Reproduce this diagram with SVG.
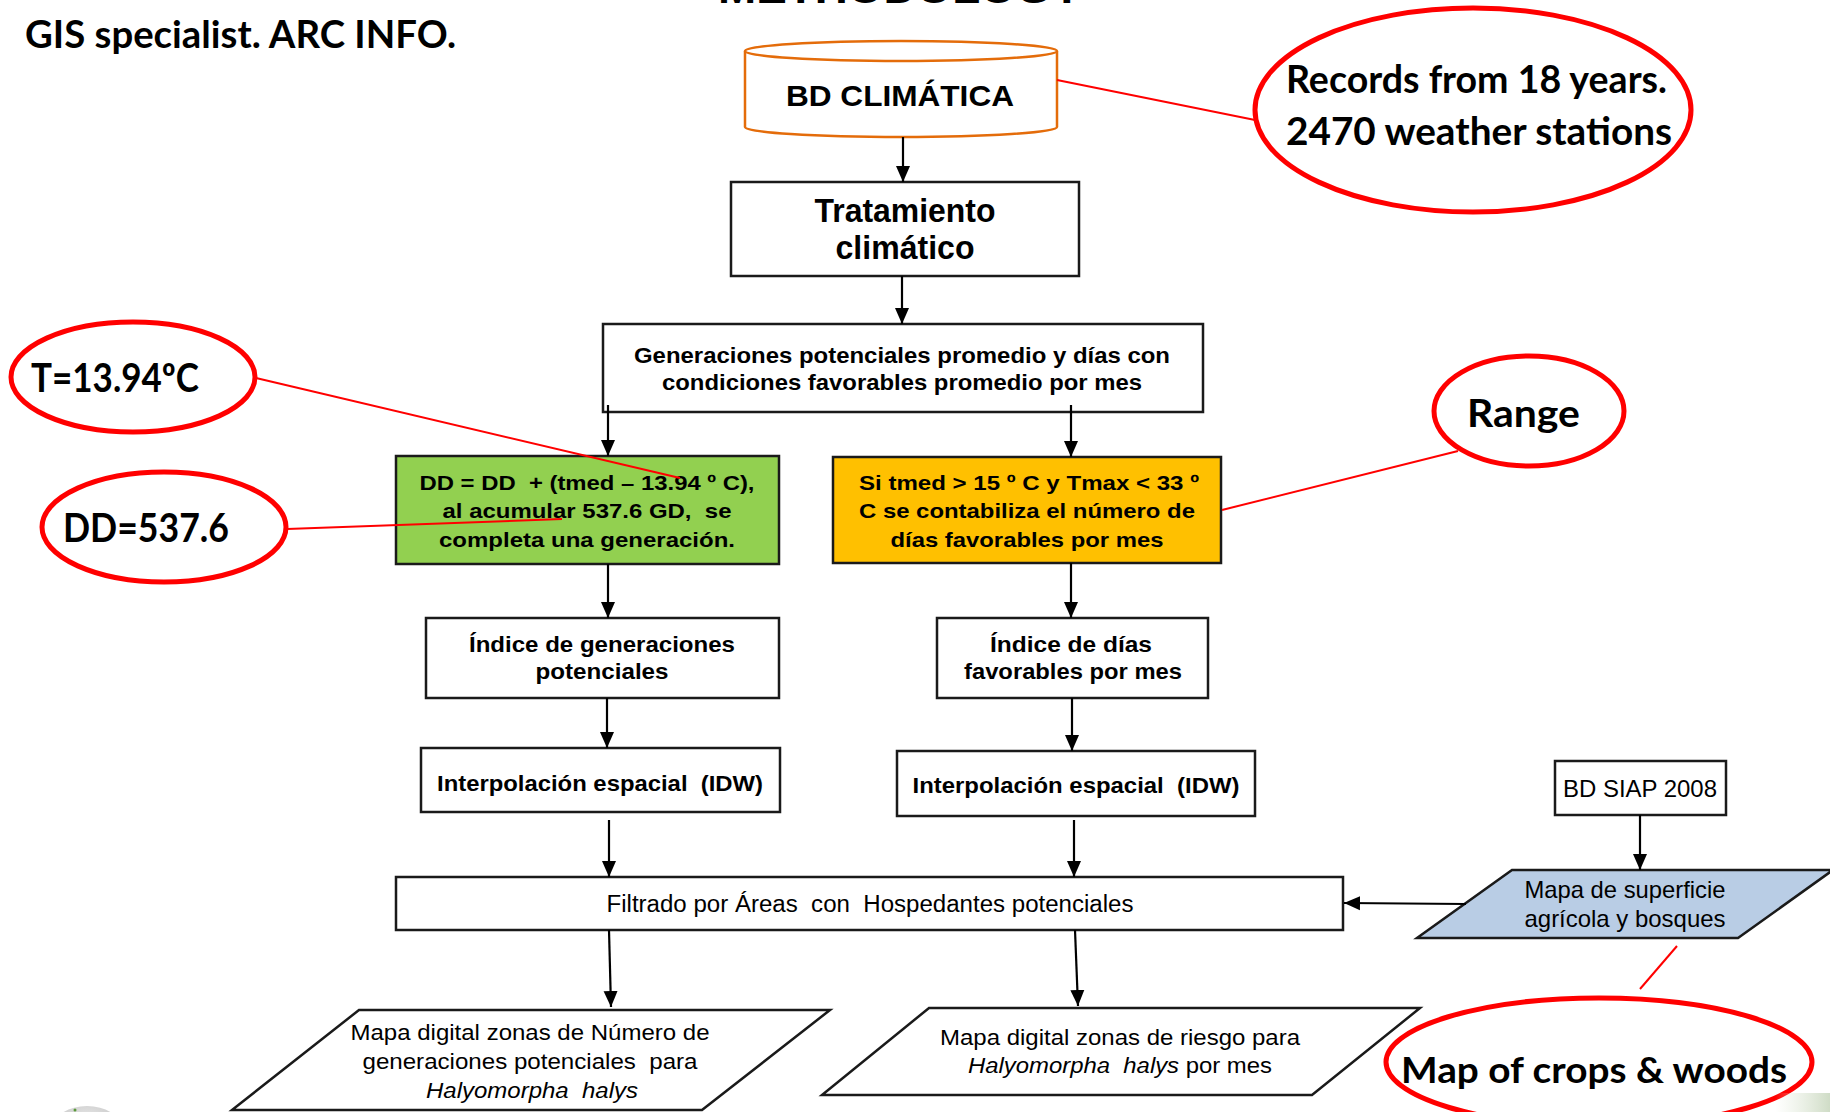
<svg xmlns="http://www.w3.org/2000/svg" width="1830" height="1112" viewBox="0 0 1830 1112">
<style>
text{white-space:pre}
.box{fill:#fff;stroke:#1a1a1a;stroke-width:2.5}
.bt{font-family:"Liberation Sans Narrow","Liberation Sans",Arial,sans-serif;font-weight:bold;fill:#000;text-anchor:middle}
.rt{font-family:"Liberation Sans Narrow","Liberation Sans",Arial,sans-serif;fill:#000;text-anchor:middle}
.at{font-family:"Liberation Sans",Arial,sans-serif;fill:#000;text-anchor:middle}
.ct{font-family:Lato,"Open Sans","Liberation Sans",sans-serif;font-weight:bold;fill:#000}
.call{fill:#fff;stroke:#ff0000;stroke-width:5}
.arr{stroke:#000;stroke-width:2.2;fill:none;marker-end:url(#ah)}
.red{stroke:#ff0000;stroke-width:2;fill:none}
</style>
<defs>
<marker id="ah" markerUnits="userSpaceOnUse" markerWidth="16" markerHeight="18" viewBox="0 0 16 14" refX="16" refY="7" orient="auto">
<path d="M0,0 L16,7 L0,14 Z" fill="#000"/>
</marker>
<linearGradient id="gr" x1="0" y1="0" x2="1" y2="0">
<stop offset="0" stop-color="#dfe8d6" stop-opacity="0"/>
<stop offset="1" stop-color="#cfdcc6"/>
</linearGradient>
<radialGradient id="gd" cx="0.5" cy="0.3" r="0.7">
<stop offset="0" stop-color="#e8e8e8"/>
<stop offset="1" stop-color="#bdbdbd"/>
</radialGradient>
</defs>
<rect width="1830" height="1112" fill="#fff"/>

<text x="718" y="3" font-family="Liberation Sans,Arial,sans-serif" font-weight="bold" font-size="40" textLength="364" lengthAdjust="spacingAndGlyphs">METHODOLOGY</text>
<text class="ct" x="25" y="48" font-size="38" textLength="431" lengthAdjust="spacingAndGlyphs">GIS specialist. ARC INFO.</text>

<g id="bd-climatica">
<path d="M745,51 L745,127 A156,10 0 0 0 1057,127 L1057,51" fill="#fff" stroke="#e46c0a" stroke-width="2.5"/>
<ellipse cx="901" cy="51" rx="156" ry="10" fill="#fff" stroke="#e46c0a" stroke-width="2.5"/>
<text class="bt" x="900" y="106" font-size="30" textLength="228" lengthAdjust="spacingAndGlyphs">BD CLIMÁTICA</text>
</g>

<g id="tratamiento">
<rect class="box" x="731" y="182" width="348" height="94"/>
<text class="bt" x="905" y="222" font-size="33" textLength="181" lengthAdjust="spacingAndGlyphs">Tratamiento</text>
<text class="bt" x="905" y="259" font-size="33" textLength="139" lengthAdjust="spacingAndGlyphs">climático</text>
</g>

<g id="generaciones">
<rect class="box" x="603" y="324" width="600" height="88"/>
<text class="bt" x="902" y="363" font-size="22" textLength="536" lengthAdjust="spacingAndGlyphs">Generaciones potenciales promedio y días con</text>
<text class="bt" x="902" y="390" font-size="22" textLength="480" lengthAdjust="spacingAndGlyphs">condiciones favorables promedio por mes</text>
</g>

<g id="dd-formula">
<rect x="396" y="456" width="383" height="108" fill="#92d050" stroke="#1a1a1a" stroke-width="2.5"/>
<text class="bt" x="587" y="490" font-size="21" textLength="335" lengthAdjust="spacingAndGlyphs">DD = DD  + (tmed – 13.94 º C),</text>
<text class="bt" x="587" y="518" font-size="21" textLength="289" lengthAdjust="spacingAndGlyphs">al acumular 537.6 GD,  se</text>
<text class="bt" x="587" y="547" font-size="21" textLength="296" lengthAdjust="spacingAndGlyphs">completa una generación.</text>
</g>

<g id="dias-favorables-regla">
<rect x="833" y="457" width="388" height="106" fill="#ffc000" stroke="#1a1a1a" stroke-width="2.5"/>
<text class="bt" x="1029" y="490" font-size="21" textLength="340" lengthAdjust="spacingAndGlyphs">Si tmed &gt; 15 º C y Tmax &lt; 33 º</text>
<text class="bt" x="1027" y="518" font-size="21" textLength="336" lengthAdjust="spacingAndGlyphs">C se contabiliza el número de</text>
<text class="bt" x="1027" y="547" font-size="21" textLength="273" lengthAdjust="spacingAndGlyphs">días favorables por mes</text>
</g>

<g id="indice-generaciones">
<rect class="box" x="426" y="618" width="353" height="80"/>
<text class="bt" x="602" y="652" font-size="22" textLength="266" lengthAdjust="spacingAndGlyphs">Índice de generaciones</text>
<text class="bt" x="602" y="679" font-size="22" textLength="133" lengthAdjust="spacingAndGlyphs">potenciales</text>
</g>

<g id="indice-dias">
<rect class="box" x="937" y="618" width="271" height="80"/>
<text class="bt" x="1071" y="652" font-size="22" textLength="162" lengthAdjust="spacingAndGlyphs">Índice de días</text>
<text class="bt" x="1073" y="679" font-size="22" textLength="218" lengthAdjust="spacingAndGlyphs">favorables por mes</text>
</g>

<g id="interpolacion-izq">
<rect class="box" x="421" y="748" width="359" height="64"/>
<text class="bt" x="600" y="791" font-size="22" textLength="326" lengthAdjust="spacingAndGlyphs">Interpolación espacial  (IDW)</text>
</g>

<g id="interpolacion-der">
<rect class="box" x="897" y="751" width="358" height="65"/>
<text class="bt" x="1076" y="793" font-size="22" textLength="327" lengthAdjust="spacingAndGlyphs">Interpolación espacial  (IDW)</text>
</g>

<g id="filtrado">
<rect class="box" x="396" y="877" width="947" height="53"/>
<text class="rt" x="870" y="912" font-size="23" textLength="527" lengthAdjust="spacingAndGlyphs">Filtrado por Áreas  con  Hospedantes potenciales</text>
</g>

<g id="bd-siap">
<rect class="box" x="1555" y="761" width="171" height="54" stroke-width="2"/>
<text class="at" x="1640" y="797" font-size="23.5" textLength="154" lengthAdjust="spacingAndGlyphs">BD SIAP 2008</text>
</g>

<g id="mapa-superficie">
<polygon points="1512,870 1833,870 1738,938 1417,938" fill="#b9cde5" stroke="#1a1a1a" stroke-width="2.5"/>
<text class="at" x="1625" y="898" font-size="24" textLength="201" lengthAdjust="spacingAndGlyphs">Mapa de superficie</text>
<text class="at" x="1625" y="927" font-size="24" textLength="201" lengthAdjust="spacingAndGlyphs">agrícola y bosques</text>
</g>

<g id="mapa-generaciones">
<polygon points="359,1010 830,1010 702,1110 232,1110" fill="#fff" stroke="#1a1a1a" stroke-width="2.5"/>
<text class="rt" x="530" y="1040" font-size="22" textLength="359" lengthAdjust="spacingAndGlyphs">Mapa digital zonas de Número de</text>
<text class="rt" x="530" y="1069" font-size="22" textLength="335" lengthAdjust="spacingAndGlyphs">generaciones potenciales  para</text>
<text class="rt" x="532" y="1098" font-size="22" font-style="italic" textLength="212" lengthAdjust="spacingAndGlyphs">Halyomorpha  halys</text>
</g>

<g id="mapa-riesgo">
<polygon points="929,1008 1420,1008 1312,1095 822,1095" fill="#fff" stroke="#1a1a1a" stroke-width="2.5"/>
<text class="rt" x="1120" y="1045" font-size="22" textLength="360" lengthAdjust="spacingAndGlyphs">Mapa digital zonas de riesgo para</text>
<text class="rt" x="1120" y="1073" font-size="22" textLength="304" lengthAdjust="spacingAndGlyphs"><tspan font-style="italic">Halyomorpha  halys</tspan> por mes</text>
</g>

<g id="connectors">
<line class="arr" x1="903" y1="137" x2="903" y2="182"/>
<line class="arr" x1="902" y1="276" x2="902" y2="324"/>
<line class="arr" x1="608" y1="405" x2="608" y2="456"/>
<line class="arr" x1="1071" y1="405" x2="1071" y2="457"/>
<line class="arr" x1="608" y1="564" x2="608" y2="618"/>
<line class="arr" x1="1071" y1="563" x2="1071" y2="618"/>
<line class="arr" x1="607" y1="698" x2="607" y2="748"/>
<line class="arr" x1="1072" y1="698" x2="1072" y2="751"/>
<line class="arr" x1="609" y1="820" x2="609" y2="877"/>
<line class="arr" x1="1074" y1="820" x2="1074" y2="877"/>
<line class="arr" x1="609" y1="930" x2="611" y2="1007"/>
<line class="arr" x1="1075" y1="930" x2="1078" y2="1006"/>
<line class="arr" x1="1640" y1="815" x2="1640" y2="870"/>
<line class="arr" x1="1466" y1="904" x2="1344" y2="903"/>
</g>

<g id="callout-lines">
<line class="red" x1="1057" y1="80" x2="1255" y2="120"/>
<line class="red" x1="256" y1="378" x2="680" y2="478"/>
<line class="red" x1="287" y1="529" x2="562" y2="519"/>
<line class="red" x1="1458" y1="451" x2="1222" y2="510"/>
<line class="red" x1="1677" y1="946" x2="1640" y2="989"/>
</g>

<g id="callout-records">
<ellipse class="call" cx="1473" cy="110" rx="218" ry="102"/>
<text class="ct" x="1286" y="93" font-size="39" textLength="381" lengthAdjust="spacingAndGlyphs">Records from 18 years.</text>
<text class="ct" x="1286" y="145" font-size="39" textLength="386" lengthAdjust="spacingAndGlyphs">2470 weather stations</text>
</g>

<g id="callout-t">
<ellipse class="call" cx="133" cy="377" rx="122" ry="55"/>
<text class="ct" x="31" y="392" font-size="40" textLength="168" lengthAdjust="spacingAndGlyphs">T=13.94ºC</text>
</g>

<g id="callout-dd">
<ellipse class="call" cx="164" cy="527" rx="122" ry="55"/>
<text class="ct" x="63" y="542" font-size="40" textLength="166" lengthAdjust="spacingAndGlyphs">DD=537.6</text>
</g>

<g id="callout-range">
<ellipse class="call" cx="1529" cy="411" rx="95" ry="55"/>
<text class="ct" x="1467" y="427" font-size="38" textLength="113" lengthAdjust="spacingAndGlyphs">Range</text>
</g>

<g id="callout-map">
<ellipse class="call" cx="1599" cy="1062" rx="213" ry="64"/>
<text class="ct" x="1401" y="1083" font-size="37" textLength="386" lengthAdjust="spacingAndGlyphs">Map of crops &amp; woods</text>
</g>

<ellipse cx="87" cy="1128" rx="34" ry="22" fill="url(#gd)"/>
<circle cx="75" cy="1110" r="1.5" fill="#5a9a3a"/>
<rect x="1775" y="1093" width="55" height="19" fill="url(#gr)"/>
</svg>
